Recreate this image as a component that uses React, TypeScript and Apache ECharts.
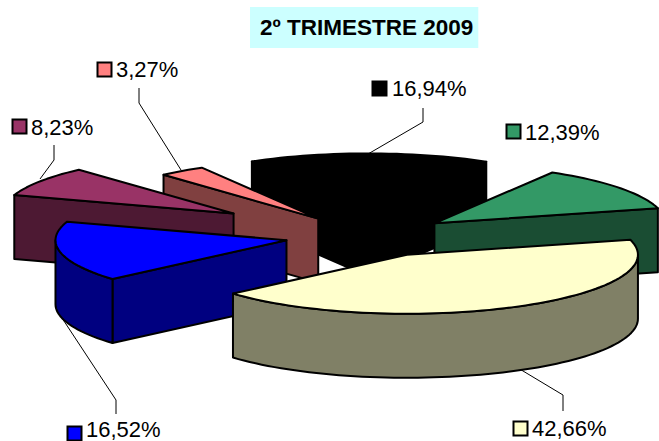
import React, { useEffect, useRef } from "react";
import * as echarts from "echarts";

// clockwise from the first slice
const categories = ["A", "B", "C", "D", "E", "F"];
const seriesValues = [42.66, 16.52, 8.23, 3.27, 16.94, 12.39];
const titleText = "2º TRIMESTRE 2009";

const topColors = ["#FFFFCC", "#0000FF", "#993366", "#FF8080", "#000000", "#339966"];
const sideColors = ["#808066", "#000080", "#4D1933", "#804040", "#000000", "#1A4D33"];
const explosions = [0.36, 0.36, 0.695, 0.365, 0.4, 0.36];
const drawOrder = [4, 5, 3, 2, 1, 0];

const CX = 368, CY = 236, RX = 231, RY = 59, DEPTH = 64, START = 75.3;

const labelBoxes = [
  { key: [513, 421], text: [532, 428] },
  { key: [67, 426], text: [86, 429] },
  { key: [12, 119], text: [31, 127] },
  { key: [97, 62], text: [116, 69] },
  { key: [372, 81], text: [392, 88] },
  { key: [506, 124], text: [525, 132] },
];
const leaders: (number[][] | null)[] = [
  [[518, 368], [563, 395], [563, 411]],
  [[60, 315], [116, 400], [116, 414]],
  [[40, 179], [54, 160], [54, 145]],
  [[181, 170], [139, 103], [139, 88]],
  [[368, 154], [423, 122], [423, 108]],
  null,
];

const total = seriesValues.reduce((a, b) => a + b, 0);
const fmt = (v: number) => v.toFixed(2).replace(".", ",") + "%";

function sliceAngles(i: number) {
  let a = START;
  for (let k = 0; k < i; k++) a += (seriesValues[k] / total) * 360;
  return [a, a + (seriesValues[i] / total) * 360];
}

function renderItem(_: any, api: any) {
  const i = api.value(0);
  const [a, b] = sliceAngles(i);
  const mid = ((a + b) / 2) * Math.PI / 180;
  const ox = CX + Math.sin(mid) * explosions[i] * RX;
  const oy = CY - Math.cos(mid) * explosions[i] * RY;
  const pt = (deg: number, dz = 0) => {
    const t = (deg * Math.PI) / 180;
    return [ox + Math.sin(t) * RX, oy - Math.cos(t) * RY + dz];
  };
  const arc = (from: number, to: number, dz = 0) => {
    const n = Math.max(2, Math.ceil(Math.abs(to - from) / 2));
    const r = [];
    for (let k = 0; k <= n; k++) r.push(pt(from + ((to - from) * k) / n, dz));
    return r;
  };
  const stroke = { stroke: "#000", lineWidth: 2, lineJoin: "round" };
  const poly = (points: number[][], fill: string) => ({
    type: "polygon",
    silent: true,
    shape: { points },
    style: { fill, ...stroke },
  });
  const children: any[] = [];
  const sa = Math.sin((a * Math.PI) / 180);
  const sb = Math.sin((b * Math.PI) / 180);
  if (sa < 0) children.push(poly([[ox, oy], pt(a), pt(a, DEPTH), [ox, oy + DEPTH]], sideColors[i]));
  if (sb > 0) children.push(poly([[ox, oy], pt(b), pt(b, DEPTH), [ox, oy + DEPTH]], sideColors[i]));
  const r0 = Math.max(a, 90), r1 = Math.min(b, 270);
  if (r1 > r0) children.push(poly([...arc(r0, r1), ...arc(r1, r0, DEPTH)], sideColors[i]));
  children.push(poly([[ox, oy], ...arc(a, b)], topColors[i]));
  return { type: "group", children };
}

export default function App() {
  const ref = useRef<HTMLDivElement>(null);
  useEffect(() => {
    document.body.style.margin = "0";
    const chart = echarts.init(ref.current!, null, { renderer: "svg" });
    const graphics: any[] = [];
    seriesValues.forEach((v, i) => {
      const box = labelBoxes[i];
      graphics.push({
        type: "rect",
        shape: { x: box.key[0] + 0.5, y: box.key[1] + 0.5, width: 14, height: 14 },
        style: { fill: topColors[i], stroke: "#000", lineWidth: 2 },
        z: 20,
      });
      graphics.push({
        type: "text",
        x: box.text[0],
        y: box.text[1],
        style: {
          text: fmt(v),
          fill: "#000",
          font: '22px "Liberation Sans", Arial, sans-serif',
          verticalAlign: "middle",
        },
        z: 20,
      });
      const l = leaders[i];
      if (l) graphics.push({
        type: "polyline",
        shape: { points: l },
        style: { stroke: "#000", lineWidth: 1, fill: "none" },
        z: 1,
      });
    });
    chart.setOption({
      animation: false,
      backgroundColor: "#fff",
      title: {
        text: titleText,
        left: 250,
        top: 8,
        padding: [9, 5, 9, 10],
        backgroundColor: "#CCFFFF",
        textStyle: { fontFamily: '"Liberation Sans", Arial, sans-serif', fontWeight: "bold", fontSize: 22.5, color: "#000", lineHeight: 21 },
      },
      graphic: graphics,
      series: [
        {
          type: "custom",
          coordinateSystem: "none",
          silent: true,
          z: 5,
          renderItem,
          data: drawOrder.map((i) => ({ name: categories[i], value: [i, seriesValues[i]] })),
        },
      ],
    });
    return () => chart.dispose();
  }, []);
  return <div ref={ref} style={{ width: 659, height: 441 }} />;
}
